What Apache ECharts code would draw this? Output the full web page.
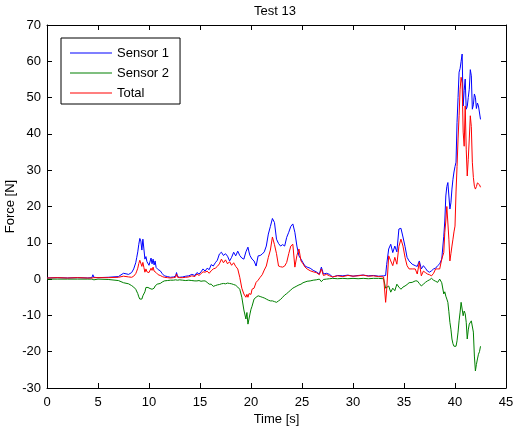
<!DOCTYPE html>
<html>
<head>
<meta charset="utf-8">
<script src="https://cdn.jsdelivr.net/npm/echarts@6/dist/echarts.min.js"></script>
<style>
  html, body { margin: 0; padding: 0; background: #fff; }
  #chart { width: 514px; height: 430px; }
</style>
</head>
<body>
<div id="chart"></div>
<script>
// Force measurements for test 13 (time in seconds, force in newtons)
const time = [
  0, 1, 2, 3, 4, 4.4, 4.5, 4.6, 5, 6, 7, 7.5, 8,
  8.3, 8.5, 8.7, 8.8, 8.9, 9.0, 9.1, 9.2, 9.3, 9.4, 9.5, 9.6, 9.7, 9.8, 9.9, 10.0, 10.1, 10.2, 10.3, 10.4, 10.5, 10.6, 10.7, 10.8, 10.9,
  11.1, 11.3, 11.5, 11.8, 12.1, 12.4, 12.6, 12.7, 12.8, 13.0, 13.3, 13.6, 13.9, 14.2, 14.5, 14.7, 14.9, 15.1, 15.3, 15.5, 15.7, 15.9,
  16.1, 16.3, 16.5, 16.7, 16.9, 17.1, 17.3, 17.5, 17.7, 17.9, 18.1, 18.3, 18.5, 18.7, 18.9, 19.1, 19.3, 19.5, 19.6, 19.7,
  19.8, 19.9, 20.0, 20.1, 20.3, 20.5, 20.7, 20.9, 21.1, 21.3, 21.5, 21.7, 21.9, 22.1, 22.3, 22.5, 22.7, 22.9, 23.1, 23.3,
  23.5, 23.7, 23.9, 24.1, 24.3, 24.5, 24.7, 24.9, 25.1, 25.3, 25.5,
  25.8, 26.1, 26.4, 26.7, 26.9, 27.1, 27.4, 27.7, 28.0, 28.5, 29, 29.5, 30, 30.5, 31, 31.5, 32, 32.5, 33.0,
  33.1, 33.2, 33.3, 33.5, 33.7, 33.9, 34.1, 34.3, 34.5, 34.7, 34.9, 35.1, 35.3, 35.5, 35.8,
  36.1, 36.3, 36.5, 36.7, 36.9, 37.1, 37.3, 37.5, 37.7, 37.9, 38.1, 38.3, 38.5, 38.7, 38.9,
  39.0, 39.1, 39.2, 39.3, 39.4, 39.5, 39.6, 39.7, 39.8, 39.9, 40.0, 40.1, 40.2, 40.3, 40.4, 40.5, 40.6, 40.7,
  40.8, 40.9, 41.0, 41.1, 41.2, 41.3, 41.4, 41.5, 41.6, 41.7, 41.8, 41.9, 42.0, 42.1, 42.2, 42.3, 42.4, 42.5
];

const sensor1 = [
  0.3, 0.4, 0.3, 0.4, 0.3, 0.4, 1.2, 0.5, 0.4, 0.5, 0.7, 1.6, 1.3,
  1.8, 2.8, 4.5, 6.0, 7.5, 9.6, 11.2, 10.5, 8.0, 11.0, 8.3, 5.5, 6.2, 4.8, 5.0, 3.8, 3.6, 5.8, 4.2, 5.5, 3.9, 5.0, 3.2, 3.3, 2.6,
  2.3, 1.5, 0.9, 0.7, 0.5, 0.6, 0.8, 1.8, 0.7, 0.5, 0.6, 0.8, 0.9, 1.3, 1.0, 1.8, 1.4, 2.0, 2.8, 2.2, 3.0, 2.6,
  4.0, 3.6, 4.5, 5.2, 6.9, 7.4, 6.5, 7.0, 6.3, 5.0, 6.0, 7.4, 6.4, 7.7, 6.5, 5.8, 5.5, 7.5, 8.0, 8.8,
  7.5, 6.5, 6.9, 5.5, 5.0, 3.6, 6.4, 6.5, 6.9, 7.5, 9.1, 12.4, 14.5, 16.7, 15.6, 11.0, 9.8, 9.1, 9.5, 9.1,
  11.5, 12.9, 14.5, 15.2, 12.9, 9.1, 6.4, 5.5, 4.5, 3.6, 3.3,
  3.0, 2.4, 2.0, 1.4, 3.3, 1.4, 1.6, 1.3, 0.6, 1.0, 0.9, 1.1, 0.8, 1.0, 1.1, 0.9, 1.0, 0.8, 0.9,
  0.5, 1.0, 4.0, 8.3, 9.6, 7.3, 9.1, 7.5, 13.8, 14.0, 11.6, 9.0, 6.0, 5.0, 4.1,
  3.7, 3.5, 5.0, 2.8, 3.7, 3.0, 2.2, 1.9, 2.3, 2.8, 3.0, 3.7, 4.2, 5.5, 11.8,
  16.0, 22.9, 25.5, 26.6, 26.7, 19.3, 21.0, 24.8, 27.5, 29.5, 31.0, 32.2, 43.2, 50.0, 57.0, 58.0, 60.0, 62.0,
  47.7, 52.0, 55.1, 46.8, 47.5, 50.0, 52.3, 57.7, 56.0, 46.8, 48.0, 51.0, 50.1, 47.0, 48.5, 47.7, 47.5, 44.0
];

const sensor2 = [
  0, 0, 0, 0, 0, 0, -0.5, -0.2, 0, -0.1, -0.4, -1.0, -1.3,
  -1.8, -2.2, -2.8, -3.2, -4.0, -4.9, -5.5, -5.0, -5.5, -4.6, -4.6, -3.5, -2.3, -2.6, -2.3, -2.8, -2.6, -2.1, -2.8, -2.3, -2.5, -1.9, -2.0, -1.4, -1.6,
  -1.2, -0.8, -0.5, -0.4, -0.3, -0.3, -0.2, -0.3, -0.3, -0.2, -0.3, -0.4, -0.3, -0.4, -0.5, -0.5, -0.4, -0.6, -0.5, -0.5, -0.9, -1.4,
  -1.4, -2.0, -1.8, -1.6, -1.5, -1.3, -1.2, -1.3, -1.1, -1.2, -1.3, -1.5, -1.7, -2.2, -2.8, -5.0, -8.5, -11.0, -9.2, -12.4,
  -11.0, -9.6, -8.3, -7.5, -5.5, -5.0, -4.6, -4.8, -5.0, -5.2, -5.5, -5.8, -6.0, -6.0, -6.2, -6.4, -6.0, -5.6, -5.0, -4.4,
  -4.0, -3.5, -3.0, -2.5, -2.2, -1.9, -1.6, -1.4, -1.0, -0.8, -0.6,
  -0.5, -0.3, -0.2, 0, -0.7, -0.1, 0, 0.1, 0.2, 0.1, 0.2, 0.1, 0.2, 0.1, 0.2, 0.1, 0.2, 0.2, 0.1,
  0.1, -2.5, -2.0, -1.9, -3.6, -2.5, -3.2, -1.4, -2.2, -2.8, -2.2, -1.9, -1.5, -1.0, -0.9,
  -0.5, -0.5, -1.2, -1.9, -1.4, -0.9, -0.5, -0.2, 0.2, -0.3, -0.6, -0.9, 0.0, -1.0, -4.1,
  -3.5, -4.7, -5.5, -6.4, -9.0, -11.9, -13.8, -16.5, -17.8, -18.5, -18.7, -18.5, -17.0, -14.6, -11.5, -9.1, -6.4, -6.4,
  -10.1, -8.8, -9.5, -11.9, -16.5, -14.0, -12.4, -11.9, -11.5, -11.9, -14.6, -21.2, -25.3, -23.5, -22.0, -20.7, -20.0, -18.5
];

const total = [
  0.3, 0.4, 0.3, 0.4, 0.3, 0.3, 0.8, 0.4, 0.4, 0.4, 0.5, 0.8, 0.6,
  0.5, 0.8, 1.5, 2.2, 3.0, 4.3, 5.2, 5.0, 3.5, 4.6, 3.2, 1.9, 2.8, 2.0, 2.3, 1.8, 2.0, 3.0, 2.4, 3.3, 2.2, 2.6, 1.8, 1.4, 1.2,
  1.0, 0.7, 0.5, 0.4, 0.3, 0.4, 0.5, 1.4, 0.5, 0.4, 0.4, 0.5, 0.6, 0.9, 0.7, 1.4, 1.0, 1.5, 2.0, 1.9, 2.2, 1.6,
  2.3, 2.8, 3.0, 3.5, 4.2, 5.5, 4.5, 5.3, 4.2, 4.8, 3.8, 4.5, 3.5, 2.8, 0.5, -2.5, -4.1, -5.0, -4.2, -5.0,
  -4.0, -3.6, -4.2, -2.8, -2.5, -0.9, -0.3, 0.5, 1.2, 2.5, 3.6, 6.0, 8.0, 11.6, 9.5, 7.0, 3.6, 3.4, 3.3, 3.6,
  4.6, 7.0, 9.1, 9.6, 3.3, 6.5, 8.3, 5.0, 4.2, 3.3, 2.8,
  2.3, 2.0, 1.8, 1.2, 2.8, 1.0, 1.3, 0.9, 0.6, 0.9, 0.7, 1.0, 0.8, 0.9, 1.1, 0.8, 0.9, 0.7, 0.6,
  0.5, -6.4, -3.0, 6.4, 5.0, 3.7, 6.0, 4.1, 9.0, 11.0, 9.1, 6.0, 3.7, 2.8, 2.8,
  2.8, 1.4, 4.6, 0.9, 2.2, 1.8, 1.4, 1.2, 0.9, 1.6, 2.8, 2.8, 2.8, 5.5, 7.3,
  12.9, 16.0, 20.0, 20.2, 11.0, 5.0, 7.0, 9.1, 11.0, 13.0, 14.6, 24.0, 31.0, 38.6, 45.0, 52.3, 55.6, 54.0,
  40.5, 36.6, 47.7, 35.8, 28.4, 33.0, 38.6, 45.0, 42.0, 32.2, 28.0, 25.6, 24.8, 25.5, 26.5, 27.0, 26.0, 25.3
];

const seriesNames = ['Sensor 1', 'Sensor 2', 'Total'];
const seriesColors = ['#0000ff', '#008000', '#ff0000'];
const seriesValues = [sensor1, sensor2, total];

const FONT = '"Liberation Sans", Arial, sans-serif';
// Thin horizontal stroke centred in a 42x14 legend icon box
const LEGEND_LINE = 'path://M0,0 L0,0 M0,6.5 L42,6.5 L42,7.5 L0,7.5 Z M0,14 L0,14';

const chart = echarts.init(document.getElementById('chart'), null, { renderer: 'canvas' });

// Boxed axes with inward ticks on all four sides
function frameAxis(extra) {
  return Object.assign({
    type: 'value',
    axisLine: { show: true, onZero: false, lineStyle: { color: '#000', width: 1 } },
    axisTick: { show: true, inside: true, length: 5, lineStyle: { color: '#000', width: 1 } },
    splitLine: { show: false },
    axisLabel: { show: false }
  }, extra);
}

const labelStyle = { show: true, color: '#000', fontSize: 13, fontFamily: FONT, showMinLabel: true, showMaxLabel: true };

chart.setOption({
  animation: false,
  backgroundColor: '#fff',
  title: {
    text: 'Test 13',
    left: 254,
    top: 5,
    padding: 0,
    textStyle: { color: '#000', fontSize: 13, fontWeight: 'normal', fontFamily: FONT }
  },
  grid: { left: 47, right: 8, top: 25, bottom: 42, containLabel: false, outerBoundsMode: 'none', show: false },
  legend: {
    data: seriesNames.map((name, k) => ({
      name: name,
      icon: LEGEND_LINE,
      itemStyle: { color: seriesColors[k], opacity: 1, borderWidth: 0 }
    })),
    orient: 'vertical',
    left: 61,
    top: 38,
    padding: [8, 11, 4, 9],
    itemGap: 6,
    itemWidth: 42,
    itemHeight: 14,
    borderColor: '#000',
    borderWidth: 1,
    borderRadius: 0,
    backgroundColor: '#fff',
    textStyle: { color: '#000', fontSize: 13, fontFamily: FONT }
  },
  xAxis: [
    frameAxis({
      position: 'bottom', min: 0, max: 45, interval: 5,
      axisLabel: Object.assign({ margin: 8 }, labelStyle),
      name: 'Time [s]', nameLocation: 'middle', nameGap: 25, nameMoveOverlap: false,
      nameTextStyle: { color: '#000', fontSize: 13, fontFamily: FONT }
    }),
    frameAxis({ position: 'top', min: 0, max: 45, interval: 5 })
  ],
  yAxis: [
    frameAxis({
      position: 'left', min: -30, max: 70, interval: 10,
      axisLabel: Object.assign({ margin: 6 }, labelStyle),
      name: 'Force [N]', nameLocation: 'middle', nameGap: 30, nameRotate: 90, nameMoveOverlap: false,
      nameTextStyle: { color: '#000', fontSize: 13, fontFamily: FONT }
    }),
    frameAxis({ position: 'right', min: -30, max: 70, interval: 10 })
  ],
  series: seriesNames.map((name, k) => ({
    name: name,
    type: 'line',
    xAxisIndex: 0,
    yAxisIndex: 0,
    symbol: 'none',
    showSymbol: false,
    smooth: false,
    color: seriesColors[k],
    lineStyle: { color: seriesColors[k], width: 1 },
    itemStyle: { color: seriesColors[k] },
    emphasis: { disabled: true },
    data: time.map((t, i) => [t, seriesValues[k][i]])
  }))
});
</script>
</body>
</html>
